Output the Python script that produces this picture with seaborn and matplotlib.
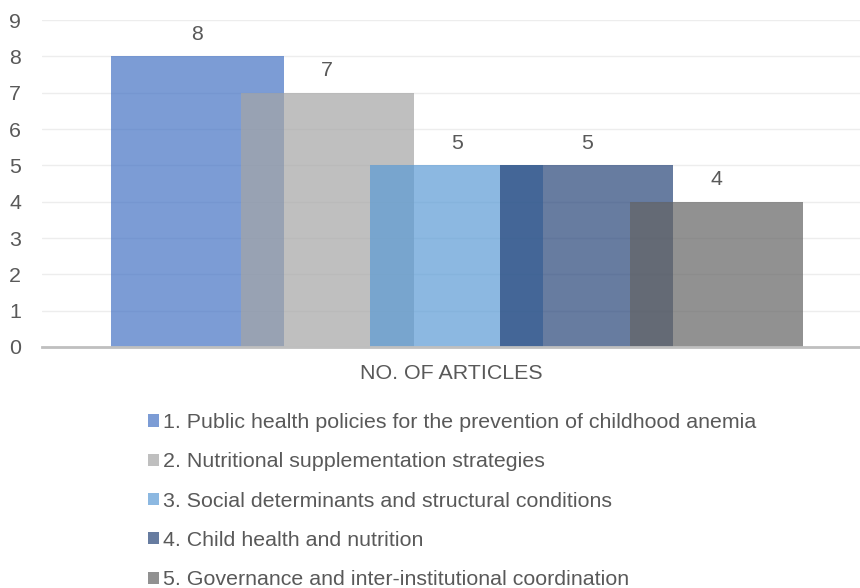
import numpy as np
import pandas as pd
import matplotlib
matplotlib.use("Agg")
import matplotlib.pyplot as plt
import seaborn as sns
from matplotlib.patches import Patch

categories = [
    "1. Public health policies for the prevention of childhood anemia",
    "2. Nutritional supplementation strategies",
    "3. Social determinants and structural conditions",
    "4. Child health and nutrition",
    "5. Governance and inter-institutional coordination",
]
values = [8, 7, 5, 5, 4]
colors = ["#4472C4", "#A5A5A5", "#5B9BD5", "#264478", "#636363"]
y_ticks = [0, 1, 2, 3, 4, 5, 6, 7, 8, 9]
x_title = "NO. OF ARTICLES"

sns.set_theme(style="white")
plt.rcParams["font.family"] = ["Liberation Sans", "DejaVu Sans"]
text_color = "#595959"
fs = 15.4

df = pd.DataFrame({"pos": np.arange(len(categories)), "count": values, "topic": categories})

fig = plt.figure(figsize=(8.6, 5.88), dpi=100)
ax = fig.add_axes([42 / 860, 1 - 347 / 588, 1 - 42 / 860, (347 - 20) / 588])

sns.barplot(data=df, x="pos", y="count", hue="topic", hue_order=categories,
            palette=colors, saturation=1, native_scale=True, dodge=False, width=1.333,
            alpha=0.7, linewidth=0, legend=False, ax=ax, zorder=3)

for cont in ax.containers:
    ax.bar_label(cont, padding=9, fontsize=fs, color=text_color)

ax.set_ylim(0, 9)
ax.set_xlim(-1.198, 5.106)
ax.set_yticks(y_ticks)
ax.set_yticklabels([str(t) for t in y_ticks], fontsize=fs, color=text_color)
ax.tick_params(axis="y", length=0, pad=15)
ax.set_xticks([])
ax.set_xlabel(x_title, fontsize=fs, color=text_color, labelpad=12.5)
ax.set_ylabel("")
ax.yaxis.grid(True, color="#EDEDED", linewidth=1, zorder=0)
ax.set_axisbelow(True)
for s in ["top", "right", "left"]:
    ax.spines[s].set_visible(False)
ax.spines["bottom"].set_color("#BFBFBF")
ax.spines["bottom"].set_linewidth(2)
ax.spines["bottom"].set_zorder(4)

handles = [Patch(facecolor=c, alpha=0.7, linewidth=0) for c in colors]
fig.legend(handles, categories, loc="upper left", bbox_to_anchor=(148 / 860, 1 - 413 / 588),
           frameon=False, fontsize=fs, labelcolor=text_color, handlelength=0.5,
           handleheight=0.5, handletextpad=0.22, labelspacing=0.95, borderpad=0,
           borderaxespad=0)

fig.savefig("out.png", dpi=100)
